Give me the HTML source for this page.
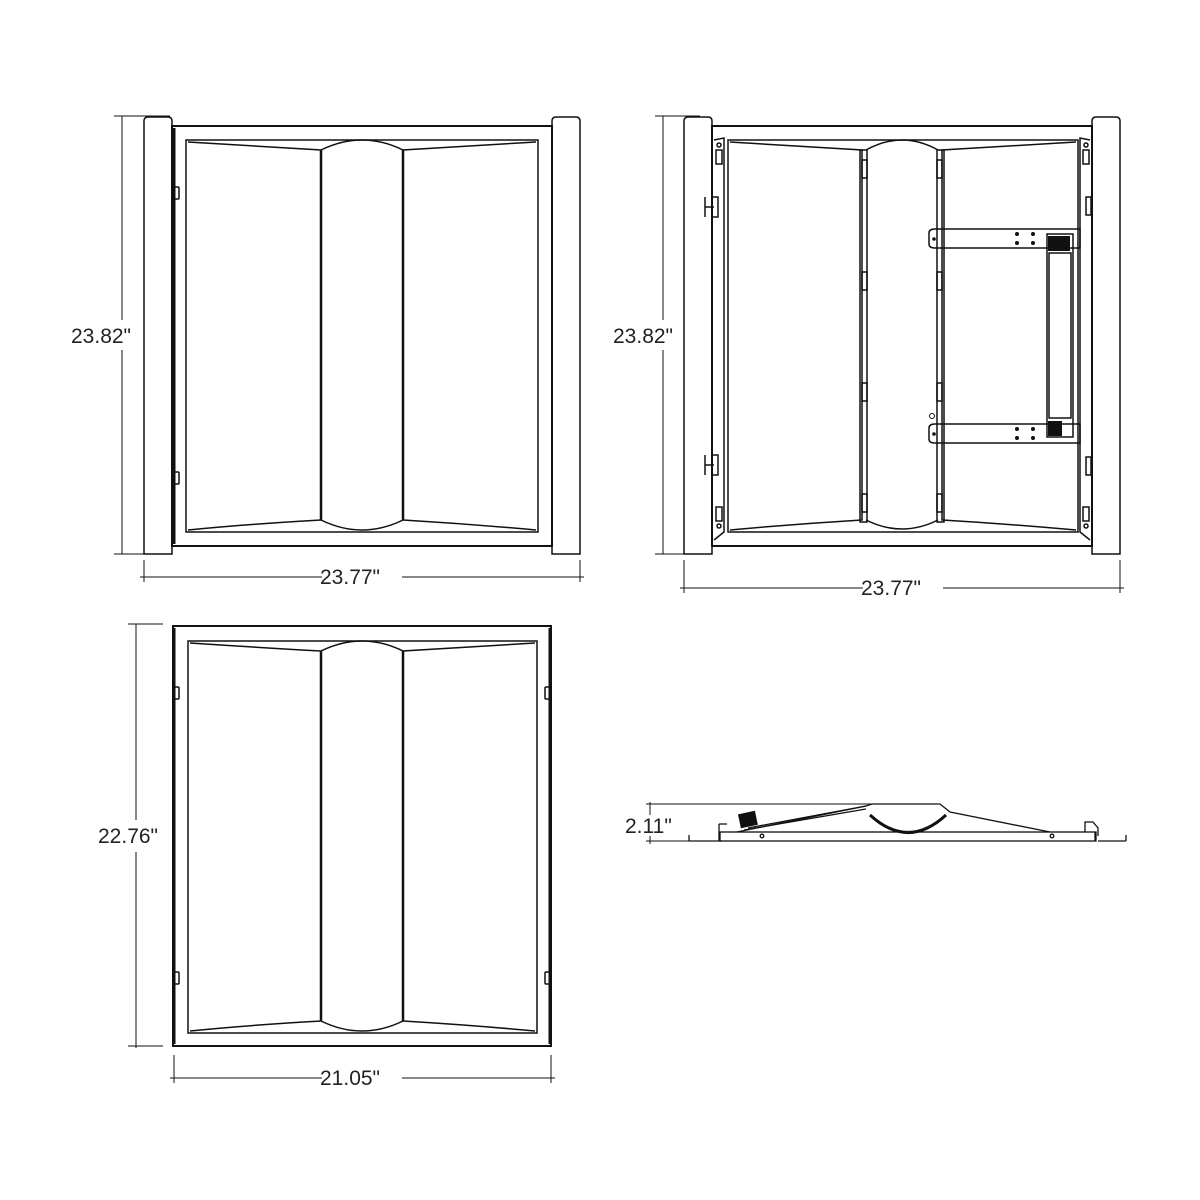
<!DOCTYPE html>
<html><head><meta charset="utf-8"><style>
html,body{margin:0;padding:0;background:#fff}
svg{display:block}
text{font-family:"Liberation Sans",sans-serif;font-size:21px;fill:#222}
</style></head><body>
<svg width="1200" height="1200" viewBox="0 0 1200 1200" xmlns="http://www.w3.org/2000/svg" fill="none" stroke="#111" stroke-width="1.5">
<!-- ===== TOP LEFT ===== -->
<g>
<line x1="122" y1="116" x2="122" y2="320" stroke-width="1"/>
<line x1="122" y1="350" x2="122" y2="554" stroke-width="1"/>
<line x1="114" y1="116" x2="170" y2="116" stroke-width="1"/>
<line x1="114" y1="554" x2="150" y2="554" stroke-width="1"/>
<text x="71" y="343" stroke="none">23.82"</text>
<path d="M144 554 V121 q0 -4 4 -4 H168 q4 0 4 4 V554 Z"/>
<path d="M552 554 V121 q0 -4 4 -4 H576 q4 0 4 4 V554 Z"/>
<rect x="172" y="126" width="380" height="420" stroke-width="2"/>
<line x1="174" y1="128" x2="174" y2="544" stroke-width="3"/>
<rect x="186" y="140" width="352" height="392"/>
<path d="M188 142 Q250 146 321 150 V520 Q250 524 188 530"/>
<path d="M536 142 Q470 146 403 150 V520 Q470 524 536 530"/>
<path d="M321 150 Q362 130 403 150"/>
<path d="M321 520 Q362 540 403 520"/>
<line x1="321" y1="150" x2="321" y2="520" stroke-width="2.5"/>
<line x1="403" y1="150" x2="403" y2="520" stroke-width="2.5"/>
<rect x="174" y="187" width="5" height="12" rx="1"/>
<rect x="174" y="472" width="5" height="12" rx="1"/>
<line x1="144" y1="560" x2="144" y2="582" stroke-width="1"/>
<line x1="580" y1="560" x2="580" y2="582" stroke-width="1"/>
<line x1="140" y1="577" x2="322" y2="577" stroke-width="1"/>
<line x1="402" y1="577" x2="584" y2="577" stroke-width="1"/>
<text x="320" y="584" stroke="none">23.77"</text>
</g>
<!-- ===== TOP RIGHT ===== -->
<g>
<line x1="663" y1="116" x2="663" y2="320" stroke-width="1"/>
<line x1="663" y1="350" x2="663" y2="554" stroke-width="1"/>
<line x1="655" y1="116" x2="700" y2="116" stroke-width="1"/>
<line x1="655" y1="554" x2="690" y2="554" stroke-width="1"/>
<text x="613" y="343" stroke="none">23.82"</text>
<path d="M684 554 V121 q0 -4 4 -4 H708 q4 0 4 4 V554 Z"/>
<path d="M1092 554 V121 q0 -4 4 -4 H1116 q4 0 4 4 V554 Z"/>
<rect x="712" y="126" width="380" height="420" stroke-width="2"/>
<rect x="728" y="140" width="350" height="392"/>
<path d="M714 140 L724 138 V532 L714 540"/>
<path d="M1090 140 L1080 138 V532 L1090 540"/>
<path d="M730 142 Q795 146 862 150 V520 Q795 524 730 530"/>
<path d="M1076 142 Q1010 146 942 150 V520 Q1010 524 1076 530"/>
<path d="M866 150 Q902 130 938 150"/>
<path d="M866 520 Q902 538 938 520"/>
<rect x="860" y="150" width="7" height="372"/>
<rect x="937" y="150" width="7" height="372"/>
<rect x="862" y="160" width="5" height="18"/><rect x="862" y="272" width="5" height="18"/><rect x="862" y="383" width="5" height="18"/><rect x="862" y="494" width="5" height="18"/>
<rect x="937" y="160" width="5" height="18"/><rect x="937" y="272" width="5" height="18"/><rect x="937" y="383" width="5" height="18"/><rect x="937" y="494" width="5" height="18"/>
<rect x="716" y="150" width="6" height="14"/><circle cx="719" cy="145" r="2"/>
<rect x="716" y="507" width="6" height="14"/><circle cx="719" cy="526" r="2"/>
<rect x="1083" y="150" width="6" height="14"/><circle cx="1086" cy="145" r="2"/>
<rect x="1083" y="507" width="6" height="14"/><circle cx="1086" cy="526" r="2"/>
<rect x="1086" y="197" width="5" height="18"/><rect x="1086" y="457" width="5" height="18"/>
<path d="M705 197 V217 M705 207 H714 M712 197 h6 v20 h-6 Z"/>
<path d="M705 455 V475 M705 465 H714 M712 455 h6 v20 h-6 Z"/>
<path d="M935 229 H1080 V248 H935 q-6 0 -6 -4 v-11 q0 -4 6 -4 Z"/>
<path d="M935 424 H1080 V443 H935 q-6 0 -6 -4 v-11 q0 -4 6 -4 Z"/>
<g fill="#111" stroke="none">
<circle cx="934" cy="239" r="1.8"/><circle cx="934" cy="434" r="1.8"/>
<circle cx="1017" cy="234" r="2"/><circle cx="1033" cy="234" r="2"/><circle cx="1017" cy="243" r="2"/><circle cx="1033" cy="243" r="2"/>
<circle cx="1017" cy="429" r="2"/><circle cx="1033" cy="429" r="2"/><circle cx="1017" cy="438" r="2"/><circle cx="1033" cy="438" r="2"/>
<rect x="1048" y="236" width="22" height="15"/>
<rect x="1048" y="421" width="14" height="15"/>
</g>
<rect x="1047" y="234" width="26" height="203"/>
<rect x="1049" y="253" width="22" height="165"/>
<circle cx="932" cy="416" r="2.5" stroke-width="1"/>
<line x1="684" y1="560" x2="684" y2="593" stroke-width="1"/>
<line x1="1120" y1="560" x2="1120" y2="593" stroke-width="1"/>
<line x1="680" y1="588" x2="863" y2="588" stroke-width="1"/>
<line x1="943" y1="588" x2="1124" y2="588" stroke-width="1"/>
<text x="861" y="595" stroke="none">23.77"</text>
</g>
<!-- ===== BOTTOM LEFT ===== -->
<g>
<line x1="136" y1="624" x2="136" y2="820" stroke-width="1"/>
<line x1="136" y1="852" x2="136" y2="1048" stroke-width="1"/>
<line x1="128" y1="624" x2="163" y2="624" stroke-width="1"/>
<line x1="128" y1="1046" x2="163" y2="1046" stroke-width="1"/>
<text x="98" y="843" stroke="none">22.76"</text>
<rect x="173" y="626" width="378" height="420" stroke-width="2"/>
<line x1="174" y1="628" x2="174" y2="1044" stroke-width="3"/>
<line x1="550" y1="628" x2="550" y2="1044" stroke-width="3"/>
<rect x="188" y="641" width="349" height="392"/>
<path d="M190 643 Q250 647 321 651 V1021 Q250 1025 190 1031"/>
<path d="M535 643 Q470 647 403 651 V1021 Q470 1025 535 1031"/>
<path d="M321 651 Q362 631 403 651"/>
<path d="M321 1021 Q362 1041 403 1021"/>
<line x1="321" y1="651" x2="321" y2="1021" stroke-width="2.5"/>
<line x1="403" y1="651" x2="403" y2="1021" stroke-width="2.5"/>
<rect x="174" y="687" width="5" height="12" rx="1"/>
<rect x="174" y="972" width="5" height="12" rx="1"/>
<rect x="545" y="687" width="5" height="12" rx="1"/>
<rect x="545" y="972" width="5" height="12" rx="1"/>
<line x1="174" y1="1055" x2="174" y2="1083" stroke-width="1"/>
<line x1="551" y1="1055" x2="551" y2="1083" stroke-width="1"/>
<line x1="170" y1="1078" x2="322" y2="1078" stroke-width="1"/>
<line x1="402" y1="1078" x2="555" y2="1078" stroke-width="1"/>
<text x="320" y="1085" stroke="none">21.05"</text>
</g>
<!-- ===== SIDE VIEW ===== -->
<g stroke-width="1.3">
<line x1="650" y1="802" x2="650" y2="815" stroke-width="1"/>
<line x1="650" y1="836" x2="650" y2="844" stroke-width="1"/>
<line x1="646" y1="804" x2="875" y2="804" stroke-width="1"/>
<line x1="646" y1="841" x2="720" y2="841" stroke-width="1"/>
<text x="625" y="833" stroke="none">2.11"</text>
<rect x="720" y="832" width="376" height="9"/>
<path d="M689 841 V835 M689 841 H722 M719 824 h8 M719 824 V841"/>
<path d="M737 832 L866 806 L872 804 H940 L950 812 L1050 832"/>
<path d="M744 830 L866 809"/>
<path d="M748 828 L866 806"/>
<path d="M870 815 Q908 850 946 815" stroke-width="3"/>
<rect x="740" y="813" width="16" height="13" fill="#111" transform="rotate(-12 748 820)"/>
<circle cx="762" cy="836" r="1.8"/><circle cx="1052" cy="836" r="1.8"/>
<path d="M1085 832 V822 h8 l5 6 v8 M1095 832 V841 M1098 841 H1126 M1126 835 V841"/>
</g>
</svg>
</body></html>
